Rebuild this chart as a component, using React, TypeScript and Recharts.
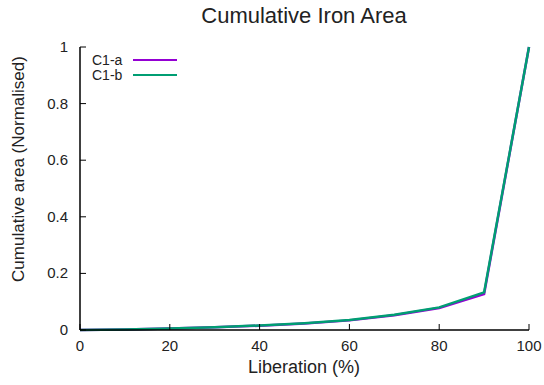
import React from "react";
import { LineChart, Line, XAxis, YAxis } from "recharts";

// Liberation classes (%) and normalised cumulative iron area per sample
const liberation = [0, 10, 20, 30, 40, 50, 60, 70, 80, 90, 100];
const c1a = [0, 0.002, 0.005, 0.01, 0.015, 0.023, 0.034, 0.052, 0.078, 0.127, 1];
const c1b = [0, 0.002, 0.005, 0.01, 0.016, 0.024, 0.035, 0.054, 0.08, 0.133, 1];

const xTicks = [0, 20, 40, 60, 80, 100];
const yTicks = [0, 0.2, 0.4, 0.6, 0.8, 1];

const title = "Cumulative Iron Area";
const xLabel = "Liberation (%)";
const yLabel = "Cumulative area (Normalised)";

const series = [
  { key: "c1a", name: "C1-a", color: "#9400d3" },
  { key: "c1b", name: "C1-b", color: "#009e73" },
];

const rows = liberation.map((x, i) => ({ x, c1a: c1a[i], c1b: c1b[i] }));

const FONT = "'Liberation Sans', Arial, sans-serif";
const TICK_LEN = 6;

const BottomTick = (props: any) => {
  const { x, y, payload } = props;
  return (
    <g>
      <line x1={x} x2={x} y1={y} y2={y - TICK_LEN} stroke="#000" strokeWidth={1} />
      <text x={x} y={y + 21} textAnchor="middle" fontSize={15} fontFamily={FONT} fill="#222">
        {payload.value}
      </text>
    </g>
  );
};

const TopTick = (props: any) => {
  const { x, y } = props;
  return <line x1={x} x2={x} y1={y} y2={y + TICK_LEN} stroke="#000" strokeWidth={1} />;
};

const LeftTick = (props: any) => {
  const { x, y, payload } = props;
  return (
    <g>
      <line x1={x} x2={x + TICK_LEN} y1={y} y2={y} stroke="#000" strokeWidth={1} />
      <text x={x - 12} y={y + 5} textAnchor="end" fontSize={15} fontFamily={FONT} fill="#222">
        {payload.value}
      </text>
    </g>
  );
};

const RightTick = (props: any) => {
  const { x, y } = props;
  return <line x1={x} x2={x - TICK_LEN} y1={y} y2={y} stroke="#000" strokeWidth={1} />;
};

const KeyBox = () => (
  <g>
    {series.map((s, i) => (
      <g key={s.key}>
        <text x={92} y={65 + i * 15} fontSize={14} fontFamily={FONT} fill="#222">
          {s.name}
        </text>
        <line x1={133} x2={177} y1={60 + i * 15} y2={60 + i * 15} stroke={s.color} strokeWidth={2.2} />
      </g>
    ))}
  </g>
);

export default function App() {
  return (
    <div style={{ position: "absolute", left: 0, top: 0, background: "#fff" }}>
      <LineChart
        width={544}
        height={385}
        data={rows}
        margin={{ top: 47, right: 15, bottom: 0, left: 0 }}
      >
        <XAxis
          dataKey="x"
          type="number"
          domain={[0, 100]}
          ticks={xTicks}
          height={55}
          tickSize={0}
          tickMargin={0}
          tickLine={false}
          tick={<BottomTick />}
          axisLine={{ stroke: "#000", strokeWidth: 1.5 }}
        />
        <XAxis
          xAxisId="top"
          dataKey="x"
          type="number"
          orientation="top"
          domain={[0, 100]}
          ticks={xTicks}
          height={0}
          tickSize={0}
          tickMargin={0}
          tickLine={false}
          tick={<TopTick />}
          axisLine={{ stroke: "#000", strokeWidth: 1.5 }}
        />
        <YAxis
          type="number"
          domain={[0, 1]}
          ticks={yTicks}
          width={80}
          tickSize={0}
          tickMargin={0}
          tickLine={false}
          tick={<LeftTick />}
          axisLine={{ stroke: "#000", strokeWidth: 1.5 }}
        />
        <YAxis
          yAxisId="right"
          type="number"
          orientation="right"
          domain={[0, 1]}
          ticks={yTicks}
          width={0}
          tickSize={0}
          tickMargin={0}
          tickLine={false}
          tick={<RightTick />}
          axisLine={{ stroke: "#000", strokeWidth: 1.5 }}
        />
        {series.map((s) => (
          <Line
            key={s.key}
            type="linear"
            dataKey={s.key}
            name={s.name}
            stroke={s.color}
            strokeWidth={2.5}
            dot={false}
            isAnimationActive={false}
          />
        ))}
        <text x={304} y={23} textAnchor="middle" fontSize={22} fontFamily={FONT} fill="#222">
          {title}
        </text>
        <text x={304} y={373} textAnchor="middle" fontSize={18} fontFamily={FONT} fill="#222">
          {xLabel}
        </text>
        <text
          x={24}
          y={169}
          textAnchor="middle"
          fontSize={17}
          fontFamily={FONT}
          fill="#222"
          transform="rotate(-90 24 169)"
        >
          {yLabel}
        </text>
        <KeyBox />
      </LineChart>
    </div>
  );
}
